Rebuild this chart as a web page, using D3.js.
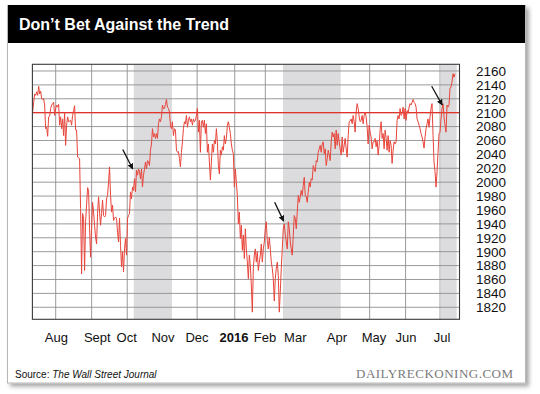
<!DOCTYPE html>
<html>
<head>
<meta charset="utf-8">
<script src="https://cdn.jsdelivr.net/npm/d3@7"></script>
<style>
    body { margin: 0; background: #fff; }
    svg { display: block; }
</style>
</head>
<body>
<div id="chart"></div>
<script>
// S&P 500, one value per pixel step (trading-day axis)
const spxFirstDay = 0.16
const spxLastDay = 254
const spx = [
    2101, 2115, 2127, 2125, 2130, 2125, 2138, 2127, 2131, 2120,
    2119, 2120, 2111, 2077, 2079, 2066, 2094, 2095, 2106, 2111,
    2113, 2115, 2096, 2106, 2111, 2108, 2112, 2082, 2094, 2077,
    2091, 2067, 2101, 2053, 2082, 2094, 2087, 2088, 2089, 2082,
    2096, 2103, 2110, 2075, 2075, 2036, 2035, 2034, 1962, 1868,
    1955, 1948, 1873, 1943, 1967, 1992, 1988, 1933, 1892, 1933,
    1971, 1957, 1938, 1921, 1911, 1955, 1979, 1957, 1938, 1955,
    1974, 1952, 1950, 1952, 1976, 1981, 2000, 2022, 1981, 1957,
    1967, 1945, 1948, 1950,
    1948, 1928, 1914, 1948, 1909, 1878, 1900, 1871, 1904, 1919,
    1895, 1948, 1952, 1955, 1986, 1976, 1993, 1988, 2005, 1986,
    2017, 2010, 2019, 2015, 2005, 2019, 1993, 2010, 2019, 2029,
    2019, 2031, 2029, 2024, 2046, 2055, 2077, 2065, 2070, 2063,
    2070, 2063, 2084, 2091, 2087, 2094, 2111, 2106, 2106, 2112,
    2119, 2108, 2106, 2101, 2082, 2077, 2087, 2067, 2077, 2075,
    2046, 2043, 2044, 2034, 2022, 2043, 2058, 2077, 2087, 2084,
    2096, 2079, 2089, 2094, 2087, 2091, 2082, 2091, 2087, 2089,
    2096, 2106, 2072, 2089, 2043, 2087,
    2089, 2079, 2089, 2070, 2084, 2043, 2055, 2029, 2003, 2029,
    2055, 2043, 2060, 2055, 2077, 2058, 2024, 2012, 2046, 2039,
    2051, 2046, 2067, 2055, 2063, 2082, 2087, 2079, 2070, 2055,
    2046, 2041, 1993, 2019, 2000, 1981, 1940, 1957, 1919, 1938,
    1902, 1924, 1890, 1933, 1904, 1885, 1861, 1895, 1880, 1852,
    1813, 1876, 1895, 1904, 1885, 1900, 1873, 1885, 1895, 1911,
    1885, 1904, 1914, 1933, 1943, 1916, 1904, 1921, 1904, 1885,
    1876, 1861, 1829, 1861, 1876, 1885, 1866, 1813, 1842, 1876,
    1904, 1933, 1940, 1924, 1914, 1904,
    1943, 1933, 1914, 1904, 1895, 1923, 1952, 1948, 1933, 1957,
    1981, 1971, 1979, 1988, 1981, 1995, 2007, 1981, 1979, 1971,
    1986, 2000, 1993, 2005, 2003, 2024, 2019, 2015, 2031, 2029,
    2043, 2048, 2053, 2043, 2055, 2058, 2041, 2048, 2024, 2034,
    2046, 2039, 2031, 2058, 2072, 2065, 2070, 2048, 2075, 2053,
    2070, 2058, 2048, 2039, 2065, 2043, 2053, 2063, 2048, 2036,
    2067, 2087, 2088, 2091, 2084, 2096, 2087, 2072, 2101, 2113,
    2106, 2094, 2087, 2089, 2096, 2084, 2096, 2101, 2094, 2079,
    2055, 2082, 2072, 2065, 2048, 2058,
    2058, 2063, 2051, 2060, 2039, 2053, 2075, 2087, 2063, 2070,
    2048, 2075, 2063, 2046, 2067, 2043, 2060, 2053, 2027, 2046,
    2058, 2055, 2058, 2089, 2096, 2091, 2106, 2096, 2099, 2108,
    2091, 2106, 2089, 2103, 2099, 2108, 2113, 2111, 2115, 2119,
    2115, 2113, 2108, 2091, 2087, 2082, 2077, 2070, 2065, 2058,
    2049, 2065, 2077, 2084, 2091, 2079, 2094, 2106, 2113, 2067,
    2029, 2015, 1993, 2015, 2043, 2070, 2072, 2091, 2106, 2113,
    2094, 2082, 2072, 2111, 2108, 2111, 2135, 2137, 2144, 2156,
    2151, 2156
]

// month starts, in trading days from the left edge
const monthStarts = [14, 35.6, 57, 78, 99, 121.6, 140, 160, 181, 202.7, 224.3, 245]
const monthLabels = ["Aug", "Sept", "Oct", "Nov", "Dec", "2016", "Feb", "Mar", "Apr", "May", "Jun", "Jul"]
const monthLabelDays = [14.4, 39.0, 56.7, 78.5, 98.9, 121.2, 139.8, 158.0, 183.0, 205.3, 224.5, 246.2]

const shadedBands = [[60.9, 83.9], [150.6, 185.3], [245.3, 255]]
const yTicks = d3.range(1820, 2161, 20)
const trendLevel = 2100

// arrows: [tailDay, tailValue, tipDay, tipValue]
const arrows = [
    [54.3, 2047, 60.3, 2019],
    [145.6, 1971, 151.0, 1944],
    [240.0, 2138, 246.3, 2111]
]

const title = "Don\u2019t Bet Against the Trend"
const brand = "DAILYRECKONING.COM"

function drawChart() {
    const width = 540
    const height = 394

    const svg = d3.select("#chart").append("svg")
        .attr("width", width)
        .attr("height", height)

    const defs = svg.append("defs")
    const shadow = defs.append("filter").attr("id", "shadow")
        .attr("x", "-5%").attr("y", "-5%").attr("width", "112%").attr("height", "115%")
    shadow.append("feDropShadow")
        .attr("dx", 3).attr("dy", 3).attr("stdDeviation", 2)
        .attr("flood-color", "#000").attr("flood-opacity", 0.35)

    defs.append("marker").attr("id", "arrowhead")
        .attr("viewBox", "0 0 10 10")
        .attr("refX", 9).attr("refY", 5)
        .attr("markerWidth", 6).attr("markerHeight", 6)
        .attr("markerUnits", "userSpaceOnUse")
        .attr("orient", "auto")
        .append("path").attr("d", "M0,0 L10,5 L0,10 z").attr("fill", "#111")

    // card + header
    svg.append("rect")
        .attr("x", 7.5).attr("y", 5.5).attr("width", 518).attr("height", 377.5)
        .attr("fill", "#fff").attr("stroke", "#b8b8b8")
        .attr("filter", "url(#shadow)")
    svg.append("rect")
        .attr("x", 8).attr("y", 5).attr("width", 517).attr("height", 38)
        .attr("fill", "#000")
    svg.append("text")
        .attr("x", 19).attr("y", 30)
        .attr("fill", "#fff")
        .attr("font-family", "'Liberation Sans', Arial, sans-serif")
        .attr("font-weight", "bold")
        .attr("font-size", 16)
        .text(title)

    const plot = { left: 32.4, right: 459.5, top: 64.3, bottom: 319.3 }

    const x = d3.scaleLinear().domain([0, 256.7]).range([plot.left, plot.right])
    const y = d3.scaleLinear().domain([1802.7, 2169.6]).range([plot.bottom, plot.top])

    const g = svg.append("g")

    // vertical month grid (shading covers some of them)
    g.append("g").selectAll("line")
        .data(monthStarts)
        .join("line")
        .attr("x1", d => x(d)).attr("x2", d => x(d))
        .attr("y1", plot.top).attr("y2", plot.bottom)
        .attr("stroke", "#8e8e8e").attr("stroke-width", 0.9)

    g.append("g").selectAll("rect")
        .data(shadedBands)
        .join("rect")
        .attr("x", d => x(d[0]))
        .attr("width", d => x(d[1]) - x(d[0]))
        .attr("y", plot.top)
        .attr("height", plot.bottom - plot.top)
        .attr("fill", "#dcdcde")

    // horizontal grid
    g.append("g").selectAll("line")
        .data(yTicks)
        .join("line")
        .attr("x1", plot.left).attr("x2", plot.right)
        .attr("y1", d => y(d)).attr("y2", d => y(d))
        .attr("stroke", "#8e8e8e").attr("stroke-width", 0.9)

    // y labels on the right
    const yAxis = d3.axisRight(y).tickValues(yTicks).tickSize(0).tickPadding(0).tickFormat(d3.format("d"))
    const ya = g.append("g")
        .attr("transform", `translate(476,0)`)
        .call(yAxis)
    ya.select(".domain").remove()
    ya.selectAll("text")
        .attr("font-family", "'Liberation Sans', Arial, sans-serif")
        .attr("font-size", 13.5)
        .attr("fill", "#111")

    // x labels
    g.append("g").selectAll("text")
        .data(monthLabels)
        .join("text")
        .attr("x", (d, i) => x(monthLabelDays[i]))
        .attr("y", 341.5)
        .attr("text-anchor", "middle")
        .attr("font-family", "'Liberation Sans', Arial, sans-serif")
        .attr("font-size", 13)
        .attr("font-weight", d => d === "2016" ? "bold" : "normal")
        .attr("fill", "#111")
        .text(d => d)

    // 2100 trend level
    g.append("line")
        .attr("x1", plot.left).attr("x2", plot.right)
        .attr("y1", y(trendLevel)).attr("y2", y(trendLevel))
        .attr("stroke", "#e2322a").attr("stroke-width", 1.2)

    const step = (spxLastDay - spxFirstDay) / (spx.length - 1)
    const line = d3.line()
        .x((d, i) => x(spxFirstDay + i * step))
        .y(d => y(d))

    g.append("path")
        .datum(spx)
        .attr("d", line)
        .attr("fill", "none")
        .attr("stroke", "#e8453b")
        .attr("stroke-width", 1)
        .attr("stroke-linejoin", "round")

    // frame
    g.append("rect")
        .attr("x", plot.left).attr("y", plot.top)
        .attr("width", plot.right - plot.left).attr("height", plot.bottom - plot.top)
        .attr("fill", "none").attr("stroke", "#3a3a3a").attr("stroke-width", 1.1)

    g.append("g").selectAll("line")
        .data(arrows)
        .join("line")
        .attr("x1", d => x(d[0])).attr("y1", d => y(d[1]))
        .attr("x2", d => x(d[2])).attr("y2", d => y(d[3]))
        .attr("stroke", "#111").attr("stroke-width", 1.3)
        .attr("marker-end", "url(#arrowhead)")

    // footer
    const src = svg.append("text")
        .attr("x", 15).attr("y", 378)
        .attr("font-family", "'Liberation Sans', Arial, sans-serif")
        .attr("font-size", 10)
        .attr("fill", "#111")
    src.append("tspan").text("Source: ")
    src.append("tspan").attr("font-style", "italic").text("The Wall Street Journal")

    svg.append("text")
        .attr("x", 356).attr("y", 377.5)
        .attr("font-family", "'Liberation Serif', 'Times New Roman', serif")
        .attr("font-size", 13)
        .attr("fill", "#7a7a7a")
        .attr("textLength", 157)
        .attr("lengthAdjust", "spacing")
        .text(brand)
}

drawChart()
</script>
</body>
</html>
